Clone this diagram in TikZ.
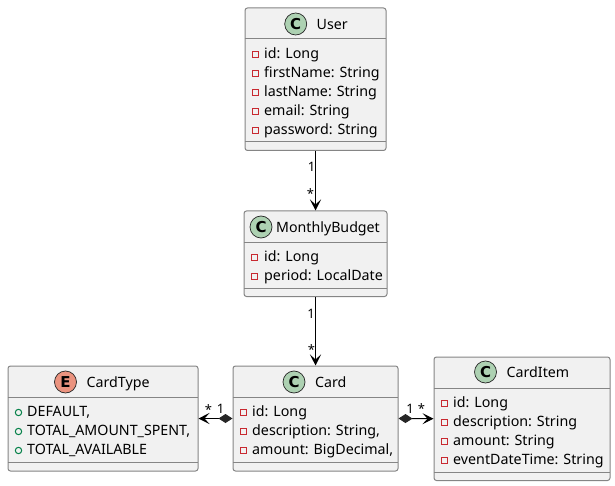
\documentclass[tikz,border=0pt]{standalone}
\usepackage{fontspec}
\setmainfont{Noto Sans}
\newfontfamily\spotfont{DejaVu Sans}
\usetikzlibrary{arrows.meta, calc}
\definecolor{boxFill}{HTML}{F1F1F1}
\definecolor{boxLine}{HTML}{858585}
\definecolor{classSpot}{HTML}{ADD1B2}
\definecolor{enumSpot}{HTML}{EB937F}
\definecolor{privRed}{HTML}{C82930}
\definecolor{pubGreen}{HTML}{038048}
\tikzset{
  classBox/.style={draw=boxLine, fill=boxFill, line width=1pt, rounded corners=2.5pt, inner sep=0pt, anchor=north west},
  spot/.style={circle, draw=black!85, line width=0.7pt, minimum size=22pt, inner sep=0pt, font=\fontsize{15}{15}\spotfont\bfseries},
  titleText/.style={anchor=west, inner sep=0pt, text height=13.5pt, text depth=3pt, font=\fontsize{14.2}{14.2}\selectfont},
  memberText/.style={anchor=west, inner sep=0pt, text height=13.5pt, text depth=3pt, font=\fontsize{14.25}{14.25}\selectfont},
  privMark/.style={rectangle, draw=privRed, line width=1pt, minimum size=6pt, inner sep=0pt, yshift=-1.5pt},
  pubMark/.style={circle, draw=pubGreen, line width=1pt, minimum size=6.4pt, inner sep=0pt, yshift=-1.5pt},
  multText/.style={inner sep=0pt, font=\fontsize{13}{13}\selectfont},
  assoc/.style={line width=1pt, -{Stealth[length=11pt, width=11pt, inset=5pt]}},
  compo/.style={line width=1pt, {Diamond[length=14pt, width=9pt, color=black!85]}-{Stealth[length=11pt, width=11pt, inset=5pt]}},
}
% box: name, left, top, width, height, y of first line, y of second line
\newcommand{\umlBox}[7]{
  \node[classBox, minimum width=#4pt, minimum height=#5pt] (#1) at (#2,#3) {};
  \draw[boxLine, line width=1pt] (#2,#6) -- ({#2+#4},#6);
  \draw[boxLine, line width=1pt] (#2,#7) -- ({#2+#4},#7);
}
\begin{document}
\begin{tikzpicture}[x=1pt, y=-1pt]
\useasboundingbox (0,0) rectangle (615,486);

% User
\umlBox{user}{244.5}{7.5}{141}{142.5}{39}{142}
\node[spot, fill=classSpot] (userSpot) at (295.7,24) {C};
\node[titleText] (userTitle) at (316.5,24) {User};
\foreach \n/\y/\txt in {a/53/id: Long, b/72/firstName: String, c/91/lastName: String, d/110/email: String, e/129/password: String}{
  \node[privMark] (userMark\n) at (255.5,\y) {};
  \node[memberText] (userText\n) at (264,\y) {\txt};
}

% MonthlyBudget
\umlBox{budget}{243.5}{210.5}{143}{85.5}{242.5}{288}
\node[spot, fill=classSpot] (budgetSpot) at (261,227) {C};
\node[titleText] (budgetTitle) at (276,227) {MonthlyBudget};
\foreach \n/\y/\txt in {a/256/id: Long, b/275/period: LocalDate}{
  \node[privMark] (budgetMark\n) at (254.5,\y) {};
  \node[memberText] (budgetText\n) at (264,\y) {\txt};
}

% CardType
\umlBox{cardType}{7.5}{365.5}{190}{105}{397.5}{462}
\node[spot, fill=enumSpot] (typeSpot) at (65.5,382) {E};
\node[titleText] (typeTitle) at (86.5,382) {CardType};
\foreach \n/\y/\txt in {a/411/{DEFAULT,}, b/430/{TOTAL\_AMOUNT\_SPENT,}, c/449/TOTAL\_AVAILABLE}{
  \node[pubMark] (typeMark\n) at (18.5,\y) {};
  \node[memberText] (typeText\n) at (27,\y) {\txt};
}

% Card
\umlBox{card}{232.5}{365.5}{165}{105}{397.5}{462}
\node[spot, fill=classSpot] (cardSpot) at (294,382) {C};
\node[titleText] (cardTitle) at (315,382) {Card};
\foreach \n/\y/\txt in {a/411/id: Long, b/430/{description: String,}, c/449/{amount: BigDecimal,}}{
  \node[privMark] (cardMark\n) at (243.5,\y) {};
  \node[memberText] (cardText\n) at (252,\y) {\txt};
}

% CardItem
\umlBox{cardItem}{433.5}{356.5}{176}{123.5}{388.5}{472}
\node[spot, fill=classSpot] (itemSpot) at (485.5,372) {C};
\node[titleText] (itemTitle) at (506.5,372) {CardItem};
\foreach \n/\y/\txt in {a/402/id: Long, b/421/description: String, c/440/amount: String, d/459/eventDateTime: String}{
  \node[privMark] (itemMark\n) at (444.5,\y) {};
  \node[memberText] (itemText\n) at (453,\y) {\txt};
}

% Connectors
\draw[assoc] (user.south) -- (budget.north);
\draw[assoc] (budget.south) -- (card.north);
\draw[compo] (card.west) -- (cardType.east);
\draw[compo] (card.east) -- (cardItem.west);

% Multiplicities
\node[multText] (userOne) at (311.5,167) {1};
\node[multText] (budgetMany) at (310.5,194) {*};
\node[multText] (budgetOne) at (311,313.5) {1};
\node[multText] (cardMany) at (311.5,350) {*};
\node[multText] (typeMany) at (208.5,410) {*};
\node[multText] (typeOne) at (220.5,409) {1};
\node[multText] (itemOne) at (410,409) {1};
\node[multText] (itemMany) at (421.5,409) {*};
\end{tikzpicture}
\end{document}
